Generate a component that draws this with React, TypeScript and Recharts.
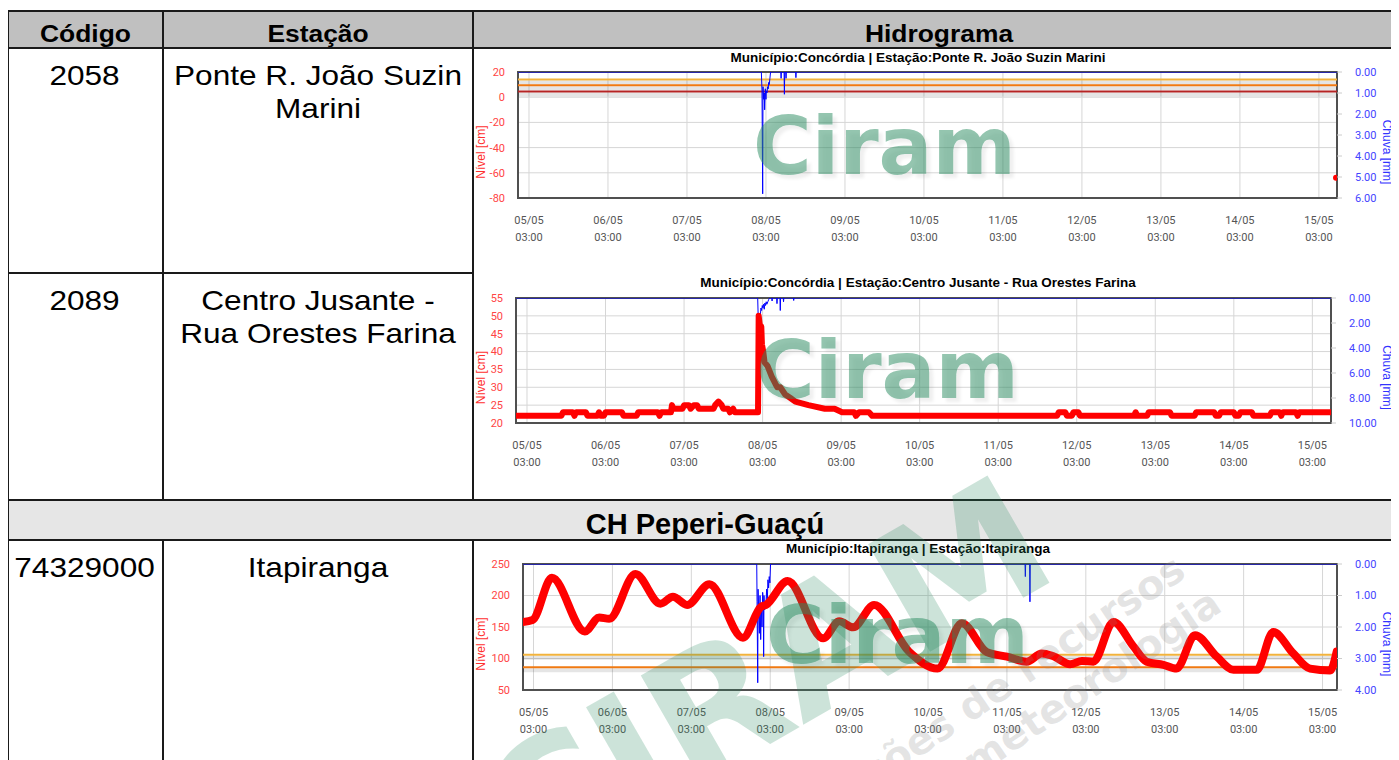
import React from 'react';
import { ComposedChart, Line, XAxis, YAxis, CartesianGrid, ReferenceLine, ReferenceArea } from 'recharts';

// ---------- table text ----------
const headers = ['Código', 'Estação', 'Hidrograma'];
const stationCodes = ['2058', '2089', '74329000'];
const stationNames = [['Ponte R. João Suzin', 'Marini'], ['Centro Jusante -', 'Rua Orestes Farina'], ['Itapiranga']];
const sectionTitle = 'CH Peperi-Guaçú';
const chartTitles = [
  'Município:Concórdia | Estação:Ponte R. João Suzin Marini',
  'Município:Concórdia | Estação:Centro Jusante - Rua Orestes Farina',
  'Município:Itapiranga | Estação:Itapiranga',
];
const watermarkText = 'Ciram';
const bigWatermark = 'CIRAM';
const grayWatermark = ['Informações de recursos', 'hidrometeorologia'];

// ---------- x axis (hours since 05/05 00:00) ----------
const dayTicks = [3, 27, 51, 75, 99, 123, 147, 171, 195, 219, 243];
const dayLabels = ['05/05', '06/05', '07/05', '08/05', '09/05', '10/05', '11/05', '12/05', '13/05', '14/05', '15/05'];
const hourLabels = ['03:00', '03:00', '03:00', '03:00', '03:00', '03:00', '03:00', '03:00', '03:00', '03:00', '03:00'];

// ---------- chart 1: Ponte R. João Suzin Marini ----------
const c1LevelTicks = [-80, -60, -40, -20, 0, 20];
const c1RainTicks = [0, 1, 2, 3, 4, 5, 6];
const c1Thresholds = [14, 9.5, 4.5];
const c1Level: [number, number][] = [[248.2, -64]];
const c1Rain: [number, number][] = [
  [-0.34, 0], [73.6, 0], [73.8, 0.9], [74.0, 5.8], [74.1, 0.7], [74.3, 1.3], [74.5, 1.0], [74.6, 1.8],
  [74.8, 0.8], [75.0, 1.3], [75.1, 0.9], [75.3, 1.0], [75.5, 0.7], [75.7, 0.8], [75.8, 0.5], [76.0, 0.6],
  [76.2, 0.3], [76.4, 0], [79.5, 0], [79.6, 0.3], [79.7, 0], [80.5, 0], [80.6, 1.06], [80.7, 0], [81.0, 0],
  [81.1, 0.3], [81.2, 0], [84.0, 0], [84.1, 0.27], [84.2, 0], [248.5, 0],
];

// ---------- chart 2: Centro Jusante ----------
const c2LevelTicks = [20, 25, 30, 35, 40, 45, 50, 55];
const c2RainTicks = [0, 2, 4, 6, 8, 10];
const c2Level: [number, number][] = [
  [-0.4, 22], [13.5, 22], [14, 23], [17, 23], [17.5, 22], [18, 23], [21, 23], [21.5, 22], [24.5, 22], [25, 23],
  [25.5, 22], [26.5, 22], [27, 23], [32, 23], [32.5, 22], [36.5, 22], [37, 23], [43, 23], [43.5, 22], [44, 23],
  [47, 23], [47.3, 25], [47.8, 24], [50.5, 24], [51, 25], [52.5, 25], [53, 24], [54, 25], [55, 25], [55.5, 24],
  [60, 24], [60.5, 25], [61.5, 26], [62.5, 25], [63, 24], [64.5, 24], [65, 23], [66, 24], [66.5, 23], [73.6, 23],
  [73.8, 50], [74.2, 47], [74.6, 47], [74.8, 42], [75.2, 40], [75.6, 37], [76.5, 36], [77.8, 33], [78.9, 31],
  [79.5, 30], [80.4, 30], [81.9, 28], [83.5, 27], [85, 26], [89, 25], [94, 24], [97, 24], [99.3, 23], [103, 23],
  [103.5, 22], [104.5, 23], [107.5, 23], [108.5, 22], [165, 22], [165.5, 23], [167.5, 23], [168, 22], [169.5, 22],
  [170, 23], [171.5, 23], [172, 22], [188.5, 22], [189, 23], [189.5, 22], [192.5, 22], [193, 23], [199.5, 23],
  [200, 22], [207, 22], [207.5, 23], [213, 23], [213.5, 22], [214.5, 22], [215, 23], [219, 23], [219.5, 22],
  [220.5, 22], [221, 23], [224.5, 23], [225, 22], [230, 22], [230.5, 23], [233, 23], [233.5, 22], [234, 23],
  [238, 23], [238.5, 22], [239, 23], [248.6, 23],
];
const c2Rain: [number, number][] = [
  [-0.36, 0], [73.5, 0], [73.7, 2.0], [73.8, 7.9], [73.9, 1.5], [74.1, 1.2], [74.3, 1.4], [74.5, 0.8], [74.7, 1.0],
  [74.9, 0.6], [75.1, 0.8], [75.3, 0.5], [75.5, 0.9], [75.7, 0.4], [75.9, 0.6], [76.1, 0.3], [76.3, 0.5],
  [76.6, 0.3], [76.9, 0.1], [77.2, 0], [77.8, 0], [77.9, 0.24], [78.0, 0], [79.3, 0], [79.4, 0.45], [79.5, 0],
  [80.3, 0], [80.4, 1.0], [80.5, 0], [81.3, 0], [81.4, 0.3], [81.5, 0], [84.4, 0], [84.5, 0.2], [84.6, 0], [248.7, 0],
];

// ---------- chart 3: Itapiranga ----------
const c3LevelTicks = [50, 100, 150, 200, 250];
const c3RainTicks = [0, 1, 2, 3, 4];
const c3Thresholds = [106, 86];
const c3Level: [number, number][] = [
  [-0.2, 158], [2.7, 161], [8.6, 228], [18.6, 143], [23, 165], [26, 163], [34, 234], [41.6, 187], [45.4, 198],
  [49.7, 185], [56.5, 218], [66.7, 133], [72.2, 182], [73.7, 185], [80.3, 223], [91.1, 132], [96, 159],
  [100.2, 149.5], [106.6, 185], [117.2, 111], [125.9, 84], [133.3, 156], [140.9, 110], [147, 103], [153, 95],
  [157.6, 108], [161, 104], [166.2, 91], [169.8, 96], [173.3, 95], [179.4, 158], [185.5, 119], [189.5, 95],
  [194.6, 90], [198.6, 84], [204.2, 137], [210.8, 103], [215.9, 82], [223, 82], [228, 142], [234.1, 108],
  [239.2, 84], [245.3, 81], [247.3, 111],
];
const c3Rain: [number, number][] = [
  [-0.2, 0], [70.9, 0], [71.0, 1.2], [71.2, 3.77], [71.3, 0.8], [71.5, 1.5], [71.7, 2.2], [71.9, 1.0], [72.1, 2.4],
  [72.3, 1.3], [72.5, 2.0], [72.7, 0.9], [72.9, 1.2], [73.0, 2.94], [73.1, 1.0], [73.3, 1.46], [73.5, 1.2],
  [73.7, 1.3], [73.9, 0.8], [74.1, 1.24], [74.3, 0.5], [74.5, 0.76], [74.7, 0.4], [74.9, 0.6], [75.1, 0],
  [152.5, 0], [152.6, 0.4], [152.7, 0], [153.9, 0], [154.0, 1.2], [154.1, 0], [247.4, 0],
];

const toLevel = (a: [number, number][]) => a.map(([t, v]) => ({ t, v }));
const toRain = (a: [number, number][]) => a.map(([t, r]) => ({ t, r }));

const thresholdColors1 = ['#f2b33d', '#f07a12', '#b52424'];
const thresholdColors3 = ['#f2b33d', '#f07a12'];

type Cfg = {
  svgTop: number; plotTop: number; plotBottom: number; plotLeft: number; plotRight: number;
  xDomain: [number, number]; lvlDomain: [number, number]; lvlTicks: number[];
  rainDomain: [number, number]; rainTicks: number[];
  level: { t: number; v: number }[]; levelWidth: number; levelType: 'linear' | 'monotone'; levelDot: boolean;
  rain: { t: number; r: number }[];
  thresholds: { v: number; color: string }[];
};

const charts: Cfg[] = [
  {
    svgTop: 48, plotTop: 72, plotBottom: 198, plotLeft: 518, plotRight: 1337,
    xDomain: [-0.34, 248.5], lvlDomain: [-80, 20], lvlTicks: c1LevelTicks,
    rainDomain: [0, 6], rainTicks: c1RainTicks,
    level: toLevel(c1Level), levelWidth: 2, levelType: 'linear', levelDot: true,
    rain: toRain(c1Rain),
    thresholds: c1Thresholds.map((v, i) => ({ v, color: thresholdColors1[i] })),
  },
  {
    svgTop: 274, plotTop: 298, plotBottom: 423, plotLeft: 516, plotRight: 1331,
    xDomain: [-0.36, 248.7], lvlDomain: [20, 55], lvlTicks: c2LevelTicks,
    rainDomain: [0, 10], rainTicks: c2RainTicks,
    level: toLevel(c2Level), levelWidth: 6, levelType: 'linear', levelDot: false,
    rain: toRain(c2Rain),
    thresholds: [],
  },
  {
    svgTop: 541, plotTop: 564, plotBottom: 690, plotLeft: 523, plotRight: 1337,
    xDomain: [-0.2, 247.4], lvlDomain: [50, 250], lvlTicks: c3LevelTicks,
    rainDomain: [0, 4], rainTicks: c3RainTicks,
    level: toLevel(c3Level), levelWidth: 8, levelType: 'monotone', levelDot: false,
    rain: toRain(c3Rain),
    thresholds: c3Thresholds.map((v, i) => ({ v, color: thresholdColors3[i] })),
  },
];

const tableFont = "'Liberation Sans', Arial, sans-serif";
const tickFont = "Roboto, 'Liberation Sans', sans-serif";

const XTick = (props: any) => {
  const { x, y, payload } = props;
  const i = dayTicks.indexOf(payload.value);
  return (
    <g>
      <text x={x} y={y + 18} textAnchor="middle" fill="#555" fontSize={11} fontFamily={tickFont}>{dayLabels[i]}</text>
      <text x={x} y={y + 35} textAnchor="middle" fill="#555" fontSize={11} fontFamily={tickFont}>{hourLabels[i]}</text>
    </g>
  );
};

const thresholdShape = (color: string) => (p: any) => (
  <g>
    <line x1={p.x1} x2={p.x2} y1={p.y1 + 3} y2={p.y2 + 3} stroke="#000" strokeOpacity={0.1} strokeWidth={4} />
    <line x1={p.x1} x2={p.x2} y1={p.y1} y2={p.y2} stroke={color} strokeWidth={2} />
  </g>
);

function Hydro({ c }: { c: Cfg }) {
  const height = c.plotBottom - c.svgTop + 55;
  const leftW = c.plotLeft - 473;
  const rightW = 1399 - c.plotRight;
  return (
    <div style={{ position: 'absolute', left: 473 - 8, top: c.svgTop - 8 }}>
      <ComposedChart width={926} height={height} margin={{ top: c.plotTop - c.svgTop, right: 0, bottom: 0, left: 0 }}>
        <CartesianGrid yAxisId="left" stroke="#d6d6d6" strokeWidth={1} />
        <XAxis
          type="number" dataKey="t" domain={c.xDomain} ticks={dayTicks} interval={0}
          allowDataOverflow tick={<XTick />} axisLine={false} tickLine={false} height={55}
        />
        <YAxis
          yAxisId="left" type="number" domain={c.lvlDomain} ticks={c.lvlTicks} interval={0} allowDataOverflow
          width={leftW} axisLine={false} tickLine={false} tickSize={6} tickMargin={7}
          tick={{ fill: '#ff4545', fontSize: 11, fontFamily: tickFont }}
          label={{
            content: (lp: any) => {
              const vb = lp.viewBox || {};
              const cx = 8;
              const cy = (vb.y ?? 0) + (vb.height ?? 0) / 2 + 17;
              return (
                <text x={cx} y={cy} transform={`rotate(-90 ${cx} ${cy})`} textAnchor="middle" dominantBaseline="central"
                  fill="#ff2f2f" fontSize={12} fontFamily={tableFont}>Nível [cm]</text>
              );
            },
          }}
        />
        <YAxis
          yAxisId="right" orientation="right" type="number" domain={c.rainDomain} ticks={c.rainTicks} interval={0}
          reversed allowDataOverflow width={rightW} axisLine={false}
          tickLine={{ stroke: '#cccccc' }} tickSize={5} tickMargin={13}
          tickFormatter={(v: number) => v.toFixed(2)}
          tick={{ fill: '#4444ff', fontSize: 11, fontFamily: tickFont }}
          label={{
            content: (lp: any) => {
              const vb = lp.viewBox || {};
              const cx = 1387 - 473;
              const cy = (vb.y ?? 0) + (vb.height ?? 0) / 2 + 17;
              return (
                <text x={cx} y={cy} transform={`rotate(90 ${cx} ${cy})`} textAnchor="middle" dominantBaseline="central"
                  fill="#3333ff" fontSize={12} fontFamily={tableFont}>Chuva [mm]</text>
              );
            },
          }}
        />
        <ReferenceArea
          yAxisId="left" x1={c.xDomain[0]} x2={c.xDomain[1]} y1={c.lvlDomain[0]} y2={c.lvlDomain[1]}
          fill="none" fillOpacity={0} stroke="#505050" strokeWidth={2} ifOverflow="visible"
        />
        {c.thresholds.map((th, i) => (
          <ReferenceLine key={i} yAxisId="left" y={th.v} stroke={th.color} shape={thresholdShape(th.color)} />
        ))}
        <Line
          yAxisId="right" data={c.rain} dataKey="r" type="linear" stroke="#0000ff" strokeWidth={1}
          dot={false} activeDot={false} isAnimationActive={false}
        />
        <Line
          yAxisId="left" data={c.level} dataKey="v" type={c.levelType} stroke="#ff0000" strokeWidth={c.levelWidth}
          strokeLinejoin="round" strokeLinecap="round"
          dot={c.levelDot ? { r: 3, fill: '#ff0000', stroke: 'none' } : false} activeDot={false} isAnimationActive={false}
        />
      </ComposedChart>
    </div>
  );
}

const TT = ({ x, y, s, size, bold, children }: any) => (
  <text transform={`translate(${x},${y}) scale(${s},1)`} textAnchor="middle" fontSize={size}
    fontWeight={bold ? 'bold' : 'normal'} fontFamily={tableFont} fill="#000">{children}</text>
);

const rowBaselines = [85, 310, 577];
const ciramPos = [[753, 174], [756, 398], [766, 663]];
const titleBaselines = [62, 287, 553];

export default function App() {
  const line = '#1a1a1a';
  return (
    <div style={{ position: 'relative', width: 1391, height: 752, overflow: 'hidden', background: '#fff', fontFamily: tableFont }}>
      <svg width={1391} height={752} style={{ position: 'absolute', left: 0, top: 0 }}>
        <g transform="translate(-8,-8)">
          <rect x={8} y={11} width={1391} height={37} fill="#c0c0c0" />
          <rect x={8} y={500} width={1391} height={40} fill="#e6e6e6" />
          <g stroke={line} strokeWidth={2}>
            <line x1={7} x2={1399} y1={11} y2={11} />
            <line x1={7} x2={1399} y1={48} y2={48} />
            <line x1={7} x2={473} y1={273} y2={273} />
            <line x1={7} x2={1399} y1={500} y2={500} />
            <line x1={7} x2={1399} y1={540} y2={540} />
            <line x1={8} x2={8} y1={10} y2={760} />
            <line x1={163} x2={163} y1={10} y2={500} />
            <line x1={163} x2={163} y1={540} y2={760} />
            <line x1={473} x2={473} y1={10} y2={500} />
            <line x1={473} x2={473} y1={540} y2={760} />
          </g>
          <TT x={85.5} y={42} s={1.1} size={24} bold>{headers[0]}</TT>
          <TT x={318} y={42} s={1.1} size={24} bold>{headers[1]}</TT>
          <TT x={939} y={42} s={1.1} size={24} bold>{headers[2]}</TT>
          {stationCodes.map((code, i) => (
            <TT key={'c' + i} x={84.5} y={rowBaselines[i]} s={1.17} size={27}>{code}</TT>
          ))}
          {stationNames.map((lines, i) =>
            lines.map((l, j) => (
              <TT key={'n' + i + j} x={318} y={rowBaselines[i] + j * 33} s={1.17} size={27}>{l}</TT>
            ))
          )}
          <TT x={705} y={534} s={1} size={29} bold>{sectionTitle}</TT>
          {chartTitles.map((t, i) => (
            <TT key={'t' + i} x={918} y={titleBaselines[i]} s={1.08} size={12.5} bold>{t}</TT>
          ))}
        </g>
      </svg>
      {charts.map((c, i) => <Hydro key={i} c={c} />)}
      <svg width={1391} height={752} style={{ position: 'absolute', left: 0, top: 0, pointerEvents: 'none' }}>
        <defs>
          <filter id="wmShadow" x="-10%" y="-10%" width="130%" height="140%">
            <feDropShadow dx={4} dy={4} stdDeviation={1.5} floodColor="#000" floodOpacity={0.12} />
          </filter>
        </defs>
        <g transform="translate(-8,-8)">
          {ciramPos.map(([x, y], i) => (
            <text key={'w' + i} x={x} y={y} fontFamily="'DejaVu Sans', sans-serif" fontWeight="bold" fontSize={80}
              fill="rgb(40,140,95)" fillOpacity={0.5} filter="url(#wmShadow)">{watermarkText}</text>
          ))}
          <text x={1063} y={575} transform="rotate(-30 1063 575)" textAnchor="end" fontFamily="'DejaVu Sans', sans-serif"
            fontWeight="bold" fontSize={170} fill="rgb(40,140,95)" fillOpacity={0.24}>{bigWatermark}</text>
          <text x={1188} y={576} transform="rotate(-34 1188 576)" textAnchor="end" fontFamily="'DejaVu Sans', sans-serif"
            fontWeight="bold" fontSize={40} fill="#888" fillOpacity={0.22}>{grayWatermark[0]}</text>
          <text x={1224} y={610} transform="rotate(-34 1224 610)" textAnchor="end" fontFamily="'DejaVu Sans', sans-serif"
            fontWeight="bold" fontSize={40} fill="#888" fillOpacity={0.22}>{grayWatermark[1]}</text>
        </g>
      </svg>
    </div>
  );
}
